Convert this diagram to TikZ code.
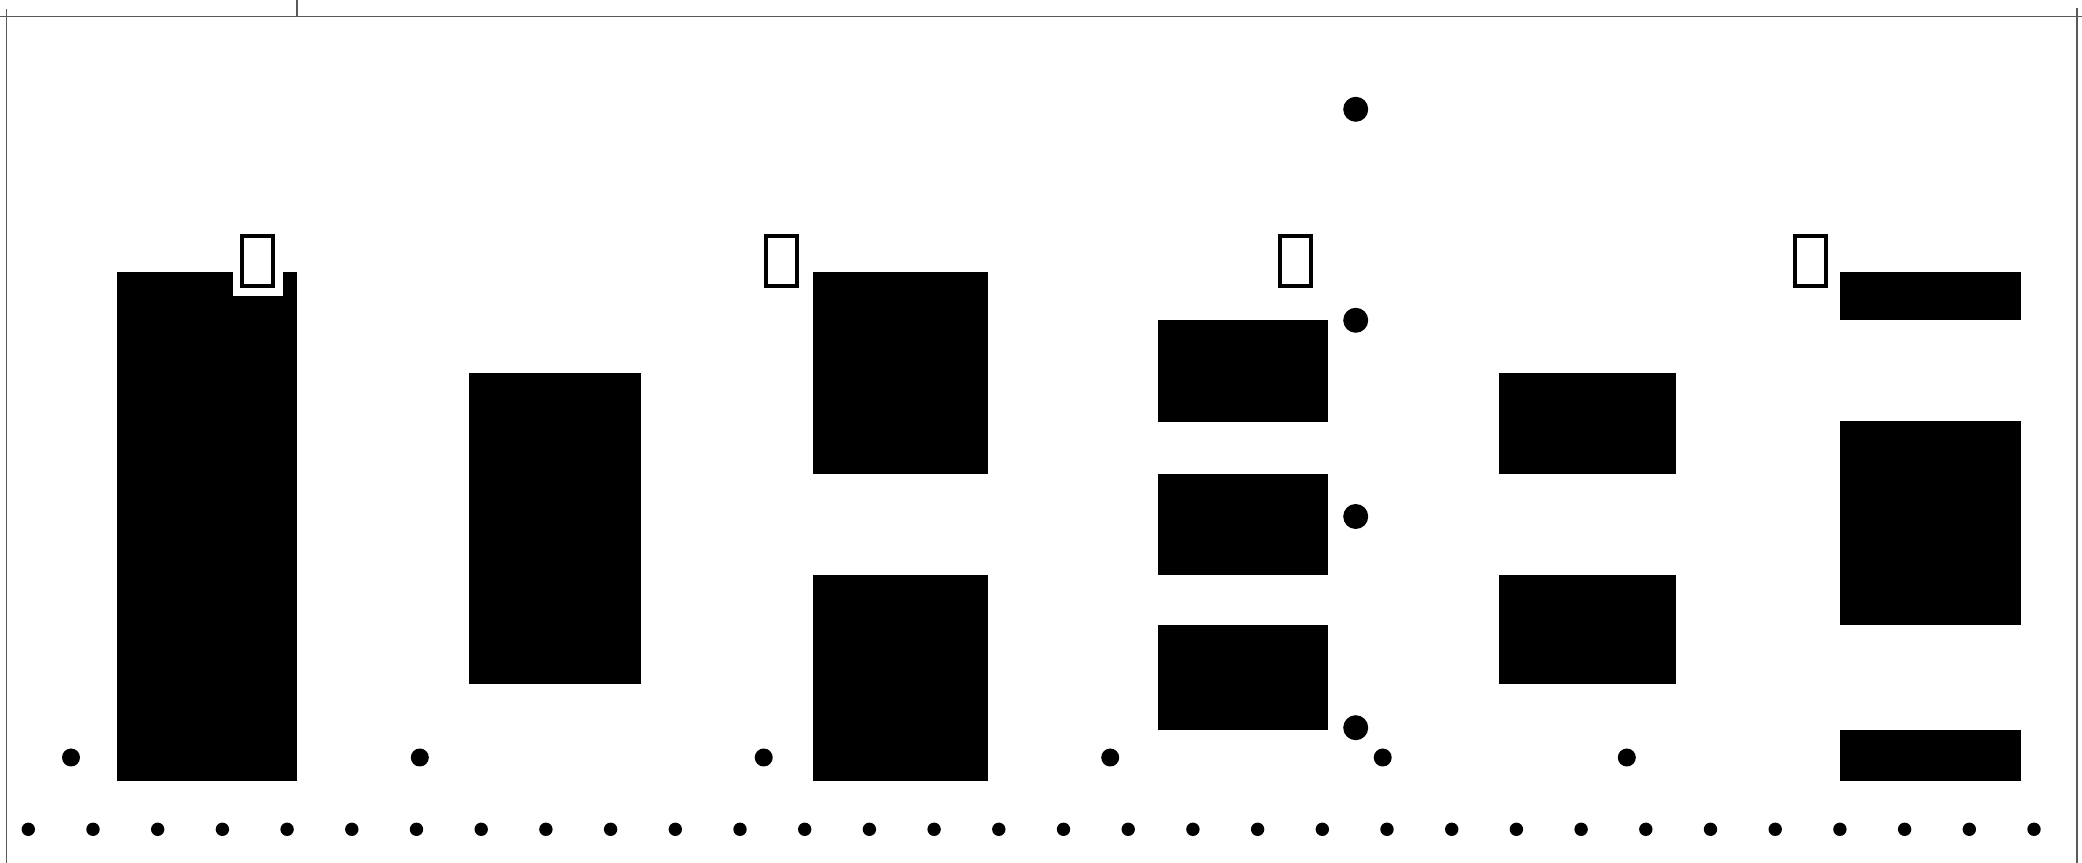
\documentclass[tikz,border=0pt]{standalone}
\usetikzlibrary{calc}
\begin{document}
\begin{tikzpicture}[x=0.1mm,y=-0.1mm,
  frame/.style={draw=black!65,line width=0.45pt},
  bar/.style={fill=black},
  sdot/.style={circle,fill=black,inner sep=0pt,minimum size=13.4*0.1mm},
  mdot/.style={circle,fill=black,inner sep=0pt,minimum size=18*0.1mm},
  bdot/.style={circle,fill=black,inner sep=0pt,minimum size=25*0.1mm},
  labelbg/.style={fill=white,inner sep=0pt,minimum width=50*0.1mm,minimum height=71*0.1mm},
  tofu/.style={draw=black,line width=1.15pt}
]
\useasboundingbox (0,0) rectangle (2082,863);
\fill[white] (0,0) rectangle (2082,863);
% frame lines
\draw[frame] (0,16.7) -- (2082,16.7);
\draw[frame] (6.7,9) -- (6.7,863);
\draw[frame] (297,0) -- (297,16.7);
\draw[frame] (2076.7,8.3) -- (2076.7,863);
% bars
\fill[bar] (117.3,272.3) rectangle (297.3,781.3);
\fill[bar] (468.7,373.5) rectangle (641.3,684);
\fill[bar] (812.6,272.3) rectangle (987.9,474.3);
\fill[bar] (812.6,575.3) rectangle (987.9,781.3);
\fill[bar] (1157.8,320.3) rectangle (1327.8,422.3);
\fill[bar] (1157.8,474.3) rectangle (1327.8,575.3);
\fill[bar] (1157.8,625.5) rectangle (1327.8,730.5);
\fill[bar] (1499.3,373.3) rectangle (1675.7,474.5);
\fill[bar] (1499.3,575.3) rectangle (1675.7,684);
\fill[bar] (1840.3,272.3) rectangle (2021,320.3);
\fill[bar] (1840.3,421) rectangle (2021,625.5);
\fill[bar] (1840.3,730.5) rectangle (2021,781);
% labels (missing-glyph boxes)
\foreach \n/\x in {1/257.7,2/781.3,3/1295.5,4/1810.3}{
  \node[labelbg] (l\n) at (\x,261) {};
  \draw[tofu] ($(l\n.center)+(-15.5,-24.6)$) rectangle ($(l\n.center)+(15.5,24.6)$);
}
% bottom row of dots
\foreach \i in {0,...,31}{
  \node[sdot] (d\i) at ({28.3+\i*64.7},829.3) {};
}
% middle row of dots
\foreach \n/\x in {1/71,2/419.8,3/763.7,4/1110.2,5/1382.7,6/1626.8}{
  \node[mdot] (m\n) at (\x,757.5) {};
}
% column of big dots
\foreach \n/\y in {1/109.3,2/320.3,3/516.5,4/727.7}{
  \node[bdot] (b\n) at (1355.7,\y) {};
}
\end{tikzpicture}
\end{document}
